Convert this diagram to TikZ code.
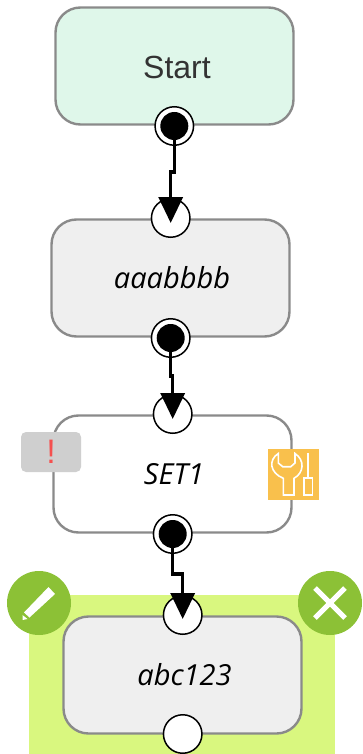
\documentclass[tikz,border=0pt]{standalone}
\usepackage{fontspec}
\setmainfont{Open Sans}
\newfontfamily\arialish{Liberation Sans}
\usetikzlibrary{arrows.meta}
\definecolor{edgegray}{HTML}{8A8A8A}
\definecolor{startfill}{HTML}{DFF7EA}
\definecolor{taskfill}{HTML}{EFEFEF}
\definecolor{limeback}{HTML}{D9F77F}
\definecolor{leafgreen}{HTML}{8CC136}
\definecolor{warnfill}{HTML}{CFCFCF}
\definecolor{warnred}{HTML}{F5504F}
\definecolor{toolfill}{HTML}{F9C04C}
\definecolor{textdark}{HTML}{333333}
\tikzset{
  x=1pt,y=-1pt,
  flowbox/.style={draw=edgegray,line width=2.4pt,rounded corners=25pt,minimum width=238pt,minimum height=117pt,inner sep=0pt,anchor=center,font=\fontsize{29}{32}\selectfont\itshape,text=black},
  inport/.style={circle,draw=black,line width=1.5pt,fill=white,minimum size=38.5pt,inner sep=0pt},
  outport/.style={circle,draw=black,line width=1.5pt,fill=white,minimum size=38.5pt,inner sep=0pt},
  core/.style={circle,fill=black,minimum size=28pt,inner sep=0pt},
  linkline/.style={line width=3.4pt,black,-{Triangle[length=26pt,width=24pt]}},
  roundbtn/.style={circle,fill=leafgreen,minimum size=64pt,inner sep=0pt},
  iconline/.style={draw=white,line width=1.6pt,line join=miter}
}
\begin{document}
\begin{tikzpicture}
\useasboundingbox (0,0) rectangle (362,754);
% selection backing
\fill[limeback] (29,595) rectangle (335,754);
% boxes
\node[flowbox,fill=startfill,font=\arialish\fontsize{32}{36}\selectfont,text=textdark] (start) at (174.5,66) {\hspace*{5pt}\raisebox{-13pt}[0pt][0pt]{Start}};
\node[flowbox,fill=taskfill] (aaa) at (170.5,278) {\hspace*{3pt}aaabbbb};
\node[flowbox,fill=white] (set) at (172.5,474) {\hspace*{3pt}SET1};
\node[flowbox,fill=taskfill] (abc) at (182.5,675) {\hspace*{4pt}abc123};
% badges
\node[fill=warnfill,rounded corners=5pt,minimum width=60pt,minimum height=40pt,inner sep=0pt,text=warnred,font=\arialish\fontsize{34}{36}\selectfont] (warn) at (51,452) {!};
\node[fill=toolfill,minimum width=51pt,minimum height=51pt,inner sep=0pt] (tool) at (293.5,474.5) {};
\draw[iconline] (278.3,453.5) .. controls (268,460) and (270,473) .. (283.3,478.3) -- (283.3,495) -- (294,495) -- (294,478.3) .. controls (304,473) and (305,460) .. (295,453.5) -- (295,463) -- (290.7,466.7) -- (282.7,466.7) -- (278.3,463) -- cycle;
\draw[iconline] (303.8,478) rectangle (312.5,495);
\draw[iconline] (308,453) -- (308,478);
% buttons
\node[roundbtn] (edit) at (39,603) {};
\node[roundbtn] (del) at (330,603) {};
\fill[white] (48.5,587) -- (55,594) -- (29.5,617.5) -- (24,612.5) -- cycle;
\fill[white] (22.5,615) -- (27.5,619) -- (22.5,620) -- cycle;
\draw[white,line width=5pt] (315,588) -- (345,618) (345,588) -- (315,618);
% ports
\node[outport] (o1) at (174.3,126) {};
\node[core] (c1) at (o1.center) {};
\node[inport] (i2) at (170.7,218) {};
\node[outport] (o2) at (170.7,338) {};
\node[core] (c2) at (o2.center) {};
\node[inport] (i3) at (172.7,414) {};
\node[outport] (o3) at (172.7,534) {};
\node[core] (c3) at (o3.center) {};
\node[inport] (i4) at (182.7,615) {};
\node[inport] (o4) at (182.7,734) {};
% connectors
\coordinate (t2) at (170.7,223);
\coordinate (t3) at (172.7,419);
\coordinate (t4) at (182.7,619);
\coordinate (j1) at (174.3,172);
\coordinate (j2) at (170.7,376);
\coordinate (j3) at (172.7,574);
\draw[linkline] (c1.center) -- (j1) -| (t2);
\draw[linkline] (c2.center) -- (j2) -| (t3);
\draw[linkline] (c3.center) -- (j3) -| (t4);
\end{tikzpicture}
\end{document}
